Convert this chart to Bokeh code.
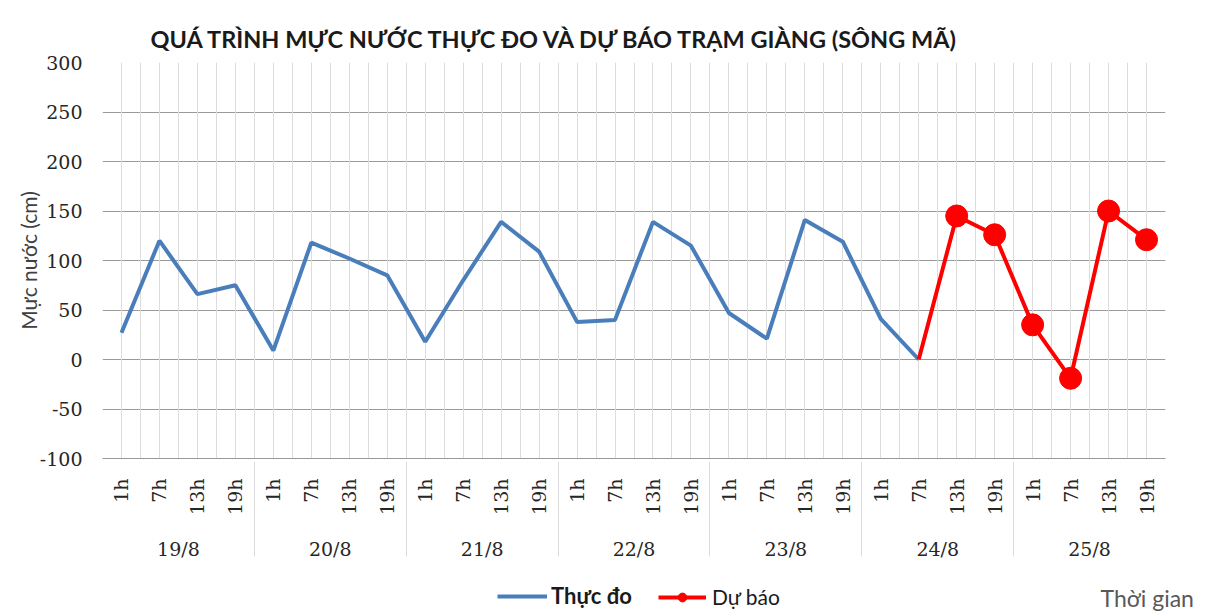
import math
from bokeh.plotting import figure
from bokeh.layouts import column
from bokeh.models import (FactorRange, Range1d, Legend, LegendItem,
                          FixedTicker, Grid)
from bokeh.embed import file_html
from bokeh.resources import INLINE

# ---- data ----
days = ["19/8", "20/8", "21/8", "22/8", "23/8", "24/8", "25/8"]
hours = ["1h", "7h", "13h", "19h"]
observed = [27, 120, 66, 75,
            9, 118, 102, 85,
            18, 80, 139, 109,
            38, 40, 139, 115,
            47, 21, 141, 119,
            41, 0]
forecast = [0, 145, 126, 35, -19, 150, 121]
y_ticks = [-100, -50, 0, 50, 100, 150, 200, 250, 300]

factors = [(d, h) for d in days for h in hours]
x_obs = factors[:len(observed)]
x_fc = factors[len(observed) - 1:len(observed) - 1 + len(forecast)]

BLUE = "#4a7ebb"
RED = "#ff0000"
SERIF = "DejaVu Serif"
SANS = "Lato"
W = 1215

p = figure(width=W, height=580,
           x_range=FactorRange(*factors, factor_padding=0, group_padding=0,
                               subgroup_padding=0, range_padding=0),
           y_range=Range1d(-100, 300),
           output_backend="svg", toolbar_location=None,
           min_border_left=102, min_border_right=50,
           min_border_top=62, min_border_bottom=122)
p.outline_line_color = None

# title
p.title.text = "QUÁ TRÌNH MỰC NƯỚC THỰC ĐO VÀ DỰ BÁO TRẠM  GIÀNG (SÔNG MÃ)"
p.title.text_font = SANS
p.title.text_font_style = "bold"
p.title.text_font_size = "23.5px"
p.title.text_color = "#1a1a1a"
p.title.align = "left"
p.title.offset = 48
p.title.standoff = 20

# grids
p.xgrid.visible = False
p.ygrid.ticker = FixedTicker(ticks=y_ticks)
p.ygrid.grid_line_color = "#9a9a9a"
p.ygrid.grid_line_width = 1
n = len(factors)
vgrid = Grid(dimension=0, ticker=FixedTicker(ticks=[i * 0.5 for i in range(2 * n + 1)]),
             grid_line_color="#dcdcdc", grid_line_width=1)
p.add_layout(vgrid)

# y axis
p.yaxis.ticker = FixedTicker(ticks=y_ticks)
p.yaxis.major_label_overrides = {t: str(t) for t in y_ticks}
p.yaxis.major_tick_line_color = None
p.yaxis.major_tick_out = 0
p.yaxis.major_tick_in = 0
p.yaxis.minor_tick_line_color = None
p.yaxis.axis_line_color = None
p.yaxis.major_label_standoff = 20
p.yaxis.major_label_text_font = SERIF
p.yaxis.major_label_text_font_size = "19px"
p.yaxis.major_label_text_color = "#262626"
p.yaxis.axis_label = "Mực nước (cm)"
p.yaxis.axis_label_text_font = SANS
p.yaxis.axis_label_text_font_style = "normal"
p.yaxis.axis_label_text_font_size = "21px"
p.yaxis.axis_label_text_color = "#404040"
p.yaxis.axis_label_standoff = -4

# x axis
xa = p.xaxis[0]
xa.axis_line_color = "#9a9a9a"
xa.major_tick_line_color = None
xa.major_tick_out = 0
xa.major_tick_in = 0
xa.minor_tick_line_color = None
xa.major_label_orientation = math.pi / 2
xa.major_label_text_font = SERIF
xa.major_label_text_font_size = "19px"
xa.major_label_text_color = "#262626"
xa.major_label_standoff = 20
xa.group_text_font = SERIF
xa.group_text_font_size = "19px"
xa.group_text_font_style = "normal"
xa.group_text_color = "#262626"
xa.separator_line_color = "#dcdcdc"
xa.separator_line_width = 1

# series
p.line(x=x_obs, y=observed, line_color=BLUE, line_width=4)
p.line(x=x_fc, y=forecast, line_color=RED, line_width=4)
p.scatter(x=x_fc[1:], y=forecast[1:], size=22, color=RED)

# ---- legend strip (same series styles; samples kept off-view) ----
H2 = 32
p2 = figure(width=W, height=H2, x_range=Range1d(102, 1165), y_range=Range1d(0, H2),
            output_backend="svg", toolbar_location=None,
            x_axis_location=None, y_axis_location="right",
            min_border_left=0, min_border_right=50,
            min_border_top=0, min_border_bottom=0)
p2.outline_line_color = None
p2.grid.visible = False
off_x = [0, 1]
off_y = [-500, -500]
l_obs = p2.line(x=off_x, y=off_y, line_color=BLUE, line_width=4)
l_fc = p2.line(x=off_x, y=off_y, line_color=RED, line_width=4)
l_fc_pts = p2.scatter(x=off_x, y=off_y, size=12, color=RED)

# "Thời gian" as the strip's right-hand axis text
ya2 = p2.yaxis[0]
ya2.ticker = FixedTicker(ticks=[15])
ya2.major_label_overrides = {15: "Thời gian"}
ya2.major_label_text_font = SANS
ya2.major_label_text_font_size = "23px"
ya2.major_label_text_color = "#595959"
ya2.major_label_standoff = -65
ya2.major_tick_line_color = None
ya2.major_tick_out = 0
ya2.major_tick_in = 0
ya2.minor_tick_line_color = None
ya2.axis_line_color = None

leg1 = Legend(items=[LegendItem(label="Thực đo", renderers=[l_obs])],
              location=(395, 3), orientation="horizontal",
              padding=0, margin=0, border_line_color=None, background_fill_alpha=0,
              glyph_width=50, glyph_height=22, label_standoff=4,
              label_text_font=SANS, label_text_font_style="bold",
              label_text_font_size="22px", label_text_color="#1a1a1a")
leg2 = Legend(items=[LegendItem(label="Dự báo", renderers=[l_fc, l_fc_pts])],
              location=(556, 3), orientation="horizontal",
              padding=0, margin=0, border_line_color=None, background_fill_alpha=0,
              glyph_width=48, glyph_height=22, label_standoff=6,
              label_text_font=SANS, label_text_font_style="normal",
              label_text_font_size="21px", label_text_color="#1a1a1a")
p2.add_layout(leg1)
p2.add_layout(leg2)

layout = column(p, p2, spacing=0)
open("out.html", "w").write(file_html(layout, INLINE))
